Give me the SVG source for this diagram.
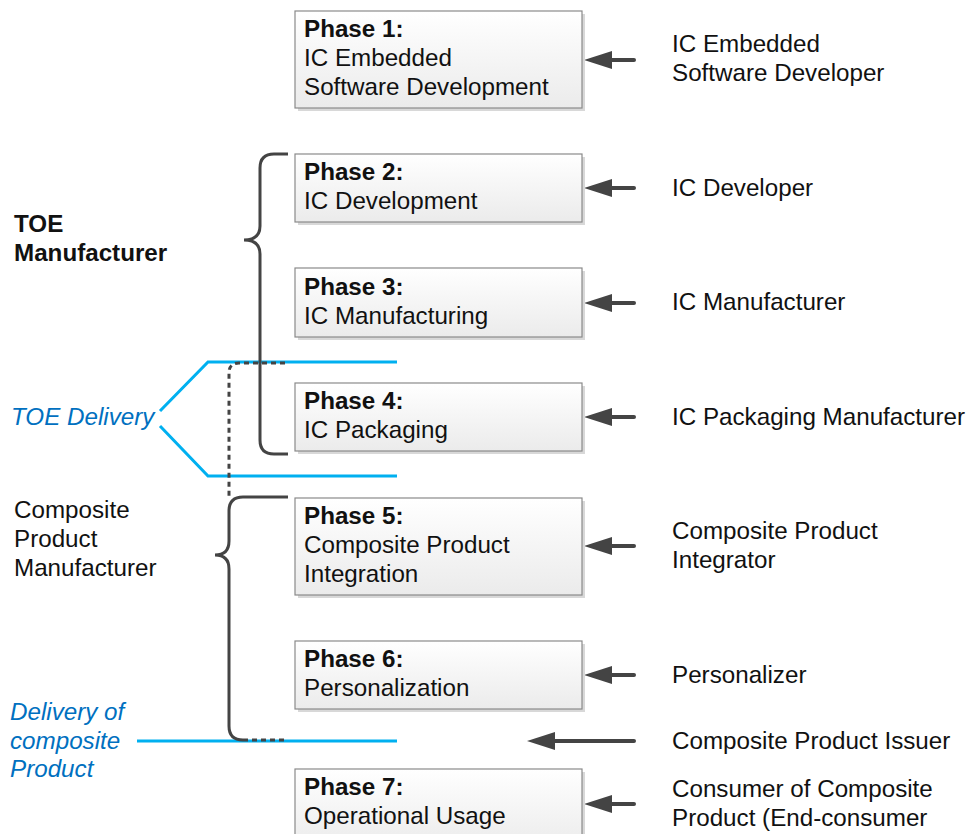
<svg xmlns="http://www.w3.org/2000/svg" width="968" height="834" viewBox="0 0 968 834">
<style>
text{font-family:"Liberation Sans",Arial,sans-serif;font-size:24.2px;fill:#111}
.b{font-weight:bold}
.blue{fill:#0070c0;font-style:italic}
.box{fill:url(#g);stroke:#8a8a8a;stroke-width:1.2}
.sh{fill:#d8d8d8}
.arr{stroke:#444;stroke-width:4;stroke-linecap:round;fill:none}
.head{fill:#444}
.br{stroke:#444;stroke-width:3;fill:none}
.bl{stroke:#00b0f0;stroke-width:3;fill:none}
.dash{stroke:#444;stroke-width:3;fill:none;stroke-dasharray:5 4}
</style>
<defs>
<linearGradient id="g" x1="0" y1="0" x2="0" y2="1">
<stop offset="0" stop-color="#ffffff"/>
<stop offset="1" stop-color="#ebebeb"/>
</linearGradient>
</defs>
<rect width="968" height="834" fill="#fff"/>

<g id="connectors">
<path class="bl" d="M397,362 H208 L160,411 M160,426 L208,476 H397"/>
<path class="bl" d="M137,741 H397"/>
<path class="dash" d="M285,363 H239 Q229,363 229,373 V497"/>
<path class="br" d="M288,154 H274 Q260,154 260,168 V226 Q260,240 244,240 Q260,240 260,254 V440 Q260,454 274,454 H288"/>
<path class="br" d="M288,497 H243 Q229,497 229,511 V541 Q229,555 215,555 Q229,555 229,569 V726 Q229,740 243,740"/>
<path class="dash" d="M243,740 H287"/>
<g>
<path class="arr" d="M634,60 H608"/><polygon class="head" points="584,60 612,51 612,69"/>
<path class="arr" d="M634,188 H608"/><polygon class="head" points="584,188 612,179 612,197"/>
<path class="arr" d="M634,303 H608"/><polygon class="head" points="584,303 612,294 612,312"/>
<path class="arr" d="M634,417 H608"/><polygon class="head" points="584,417 612,408 612,426"/>
<path class="arr" d="M634,546 H608"/><polygon class="head" points="584,546 612,537 612,555"/>
<path class="arr" d="M634,675 H608"/><polygon class="head" points="584,675 612,666 612,684"/>
<path class="arr" d="M634,741 H552"/><polygon class="head" points="527,741 555,732 555,750"/>
<path class="arr" d="M634,804 H608"/><polygon class="head" points="584,804 612,795 612,813"/>
</g>
</g>

<g id="phase1"><rect class="sh" x="298" y="14" width="287" height="97"/><rect class="box" x="295" y="11" width="287" height="97"/>
<text x="304" y="37" class="b">Phase 1:</text><text x="304" y="66">IC Embedded</text><text x="304" y="95">Software Development</text></g>
<g id="phase2"><rect class="sh" x="298" y="157" width="287" height="68"/><rect class="box" x="295" y="154" width="287" height="68"/>
<text x="304" y="180" class="b">Phase 2:</text><text x="304" y="209">IC Development</text></g>
<g id="phase3"><rect class="sh" x="298" y="271" width="287" height="69"/><rect class="box" x="295" y="268" width="287" height="69"/>
<text x="304" y="295" class="b">Phase 3:</text><text x="304" y="324">IC Manufacturing</text></g>
<g id="phase4"><rect class="sh" x="298" y="386" width="287" height="68"/><rect class="box" x="295" y="383" width="287" height="68"/>
<text x="304" y="409" class="b">Phase 4:</text><text x="304" y="438">IC Packaging</text></g>
<g id="phase5"><rect class="sh" x="298" y="501" width="287" height="97"/><rect class="box" x="295" y="498" width="287" height="97"/>
<text x="304" y="524" class="b">Phase 5:</text><text x="304" y="553">Composite Product</text><text x="304" y="582">Integration</text></g>
<g id="phase6"><rect class="sh" x="298" y="644" width="287" height="68"/><rect class="box" x="295" y="641" width="287" height="68"/>
<text x="304" y="667" class="b">Phase 6:</text><text x="304" y="696">Personalization</text></g>
<g id="phase7"><rect class="sh" x="298" y="772" width="287" height="80"/><rect class="box" x="295" y="769" width="287" height="80"/>
<text x="304" y="795" class="b">Phase 7:</text><text x="304" y="824">Operational Usage</text></g>

<g id="actors">
<text x="672" y="52">IC Embedded</text><text x="672" y="81">Software Developer</text>
<text x="672" y="196">IC Developer</text>
<text x="672" y="310">IC Manufacturer</text>
<text x="672" y="425">IC Packaging Manufacturer</text>
<text x="672" y="539">Composite Product</text><text x="672" y="568">Integrator</text>
<text x="672" y="683">Personalizer</text>
<text x="672" y="749">Composite Product Issuer</text>
<text x="672" y="797">Consumer of Composite</text><text x="672" y="826">Product (End-consumer</text>
</g>

<g id="left-labels">
<text x="14" y="232" class="b">TOE</text><text x="14" y="261" class="b">Manufacturer</text>
<text x="11" y="425" class="blue">TOE Delivery</text>
<text x="14" y="518">Composite</text><text x="14" y="547">Product</text><text x="14" y="576">Manufacturer</text>
<text x="10" y="720" class="blue">Delivery of</text><text x="10" y="749" class="blue">composite</text><text x="10" y="777" class="blue">Product</text>
</g>
</svg>
